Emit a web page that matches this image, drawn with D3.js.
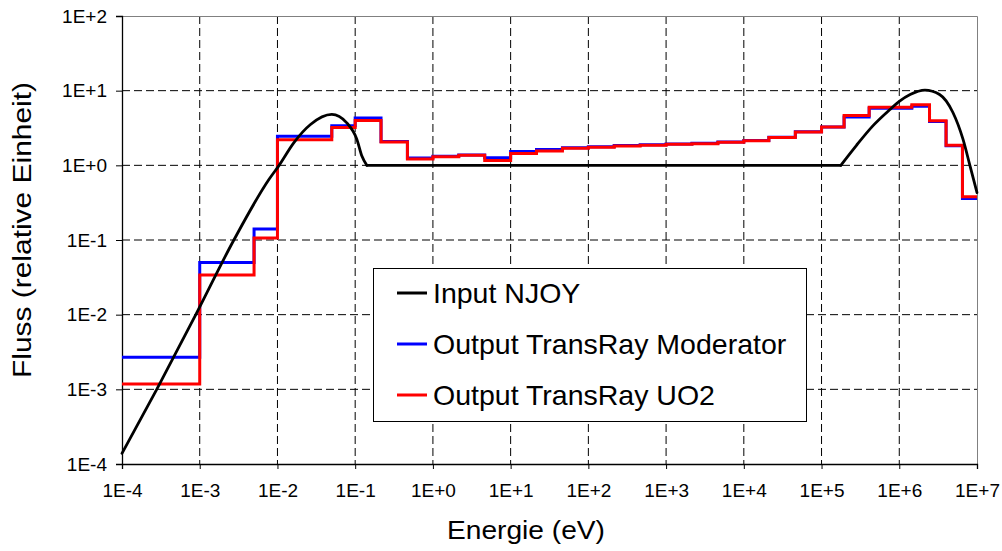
<!DOCTYPE html>
<html>
<head>
<meta charset="utf-8">
<script src="https://cdn.jsdelivr.net/npm/d3@7"></script>
<style>
	body { margin: 0; background: #fff; }
	svg { display: block; font-family: "Liberation Sans", Arial, sans-serif; }
</style>
</head>
<body>
<div class="thegraph"></div>
<script>
// group boundaries (eV) of the TransRay output
var edges = [1e-4, 1e-3, 5e-3, 1e-2, 5e-2, 1e-1, 0.215, 0.47, 1, 2.15, 4.64,
             10, 21.5, 46.4, 100, 215, 464, 1000, 2150, 4640, 1e4,
             2.1e4, 4.6e4, 1e5, 1.95e5, 4.1e5, 1.45e6, 2.45e6, 4e6, 6.5e6, 1e7];
var moderator = [2.7e-3, 0.050, 0.14, 2.46, 3.4, 4.3, 2.08, 1.25, 1.32, 1.38,
                 1.26, 1.53, 1.63, 1.72, 1.77, 1.84, 1.88, 1.93, 1.97, 2.05,
                 2.15, 2.38, 2.82, 3.25, 4.45, 5.8, 6.2, 3.85, 1.83, 0.36];
var uo2 = [1.18e-3, 0.034, 0.106, 2.2, 3.2, 4.0, 2.05, 1.22, 1.30, 1.36,
           1.16, 1.44, 1.56, 1.70, 1.75, 1.82, 1.86, 1.91, 1.95, 2.03,
           2.13, 2.36, 2.8, 3.27, 4.64, 6.0, 6.5, 3.95, 1.86, 0.38];
// NJOY input spectrum
var njoyE = [1e-4, 2.8e-4, 8.9e-4, 2.75e-3, 7.8e-3, 1.05e-2, 1.62e-2, 2.66e-2, 5.0e-2,
             7.8e-2, 0.105, 0.122, 0.141, 1.77e5, 2.8e5, 4.6e5, 7.6e5, 1e6, 1.38e6,
             2.14e6, 3.3e6, 4.9e6, 6.6e6, 8.1e6, 1e7];
var njoyF = [1.39e-4, 1e-3, 1e-2, 1e-1, 0.65, 1.0, 2.0, 3.52, 4.8,
             3.7, 2.24, 1.33, 1.0, 1.0, 1.84, 3.4, 5.6, 7.2, 8.9,
             10.2, 8.9, 5.1, 2.24, 1.0, 0.43];
var xTicks = [1e-4, 1e-3, 1e-2, 1e-1, 1, 10, 100, 1e3, 1e4, 1e5, 1e6, 1e7];
var yTicks = [1e-4, 1e-3, 1e-2, 1e-1, 1, 10, 100];
var legendNames = ["Input NJOY", "Output TransRay Moderator", "Output TransRay UO2"];
var legendColors = ["#000000", "#0000ff", "#ff0000"];

(function() {
	var w = 1002;
	var h = 551;
	var pl = 122, pr = 977, pt = 16, pb = 464;

	var svg = d3.select(".thegraph").append("svg")
		.attr("width", w)
		.attr("height", h)
		;

	var x = d3.scaleLog().domain([1e-4, 1e7]).range([pl, pr]);
	var y = d3.scaleLog().domain([1e-4, 1e2]).range([pb, pt]);

	var fmt = function(d) {
		var p = Math.round(Math.log10(d));
		return "1E" + (p >= 0 ? "+" : "") + p;
	};

	// grid
	svg.append("g").selectAll("line")
		.data(xTicks.slice(1, -1))
		.enter()
		.append("line")
		.attr("x1", function(d) { return x(d); })
		.attr("x2", function(d) { return x(d); })
		.attr("y1", pt)
		.attr("y2", pb)
		.attr("stroke", "#000")
		.attr("stroke-dasharray", "8,4")
		;
	svg.append("g").selectAll("line")
		.data(yTicks.slice(1, -1))
		.enter()
		.append("line")
		.attr("x1", pl)
		.attr("x2", pr)
		.attr("y1", function(d) { return y(d); })
		.attr("y2", function(d) { return y(d); })
		.attr("stroke", "#000")
		.attr("stroke-dasharray", "8,4")
		;
	// plot border, top and right
	svg.append("path")
		.attr("d", "M" + pl + "," + (pt + 0.5) + "H" + (pr + 0.5) + "V" + pb)
		.attr("fill", "none")
		.attr("stroke", "#808080")
		;

	// axes
	var xAxis = svg.append("g")
		.attr("transform", "translate(0," + pb + ")")
		.call(d3.axisBottom(x).tickValues(xTicks).tickFormat(fmt).tickSize(5).tickPadding(15))
		;
	var yAxis = svg.append("g")
		.attr("transform", "translate(" + pl + ",0)")
		.call(d3.axisLeft(y).tickValues(yTicks).tickFormat(fmt).tickSize(6).tickPadding(9))
		;
	[xAxis, yAxis].forEach(function(a) {
		a.select(".domain").attr("stroke", "#000").attr("stroke-width", 1.3);
		a.selectAll(".tick line").attr("stroke", "#000");
		a.selectAll("text")
			.attr("fill", "#000")
			.attr("font-size", "19px")
			.attr("font-family", "Liberation Sans, Arial, sans-serif");
	});

	// step histograms
	var stepLine = d3.line()
		.x(function(d) { return x(d[0]); })
		.y(function(d) { return y(d[1]); })
		.curve(d3.curveStepAfter)
		;
	var steps = function(vals) {
		return edges.map(function(e, i) {
			return [e, vals[Math.min(i, vals.length - 1)]];
		});
	};
	svg.append("path")
		.attr("d", stepLine(steps(moderator)))
		.attr("fill", "none")
		.attr("stroke", "#0000ff")
		.attr("stroke-width", 3)
		;
	svg.append("path")
		.attr("d", stepLine(steps(uo2)))
		.attr("fill", "none")
		.attr("stroke", "#ff0000")
		.attr("stroke-width", 3)
		;

	// NJOY curve: thermal peak, flat 1/E part, fission peak
	var njoy = njoyE.map(function(e, i) { return [e, njoyF[i]]; });
	var pieces = [
		{pts: njoy.slice(0, 13), curve: d3.curveMonotoneX},
		{pts: njoy.slice(12, 14), curve: d3.curveLinear},
		{pts: njoy.slice(13), curve: d3.curveMonotoneX}
	];
	pieces.forEach(function(p) {
		svg.append("path")
			.attr("d", d3.line()
				.x(function(d) { return x(d[0]); })
				.y(function(d) { return y(d[1]); })
				.curve(p.curve)(p.pts))
			.attr("fill", "none")
			.attr("stroke", "#000")
			.attr("stroke-width", 2.8)
			.attr("stroke-linecap", "round")
			;
	});

	// legend
	var lg = svg.append("g");
	lg.append("rect")
		.attr("x", 373.5)
		.attr("y", 268.5)
		.attr("width", 433)
		.attr("height", 153)
		.attr("fill", "#fff")
		.attr("stroke", "#000")
		;
	var rows = lg.selectAll("g.row")
		.data(legendNames)
		.enter()
		.append("g")
		.attr("class", "row")
		.attr("transform", function(d, i) { return "translate(0," + (293 + i * 51) + ")"; })
		;
	rows.append("line")
		.attr("x1", 397)
		.attr("x2", 427)
		.attr("stroke", function(d, i) { return legendColors[i]; })
		.attr("stroke-width", 3)
		;
	rows.append("text")
		.text(function(d) { return d; })
		.attr("x", 433)
		.attr("y", 10)
		.attr("font-size", "28.5px")
		.attr("fill", "#000")
		;

	// axis titles
	svg.append("text")
		.text("Energie (eV)")
		.attr("x", 526)
		.attr("y", 539)
		.attr("text-anchor", "middle")
		.attr("font-size", "25px")
		.attr("textLength", 158)
		.attr("lengthAdjust", "spacingAndGlyphs")
		;
	svg.append("text")
		.text("Fluss (relative Einheit)")
		.attr("transform", "translate(31,230) rotate(-90)")
		.attr("text-anchor", "middle")
		.attr("font-size", "25px")
		.attr("textLength", 296)
		.attr("lengthAdjust", "spacingAndGlyphs")
		;
})();
</script>
</body>
</html>
